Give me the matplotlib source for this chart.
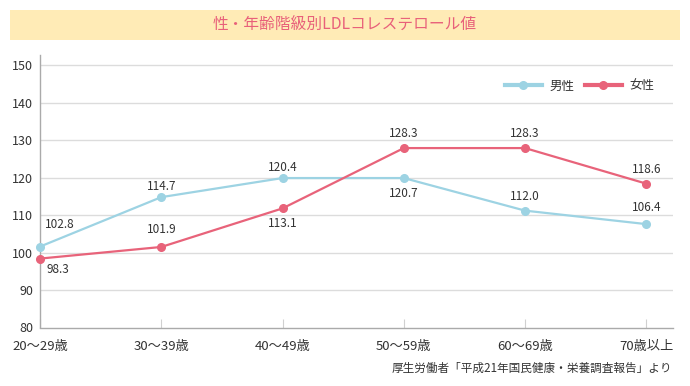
import matplotlib
matplotlib.use("Agg")
import matplotlib.pyplot as plt
from matplotlib.patches import Rectangle

plt.rcParams['font.family'] = ['Noto Sans CJK JP', 'DejaVu Sans']

categories = ["20〜29歳", "30〜39歳", "40〜49歳", "50〜59歳", "60〜69歳", "70歳以上"]
male_values = [101.6, 114.8, 119.9, 119.9, 111.2, 107.6]
female_values = [98.4, 101.5, 111.8, 127.9, 127.9, 118.4]
male_labels = ["102.8", "114.7", "120.4", "120.7", "112.0", "106.4"]
female_labels = ["98.3", "101.9", "113.1", "128.3", "128.3", "118.6"]
yticks = [80, 90, 100, 110, 120, 130, 140, 150]
title = "性・年齢階級別LDLコレステロール値"
source = "厚生労働者「平成21年国民健康・栄養調査報告」より"

# label offsets in pixels (dx, dy)
male_off = [(20, 22), (0, 11), (0, 11), (0, -15), (0, 14), (0, 17)]
female_off = [(18, -11), (0, 17), (0, -15), (0, 15), (0, 15), (0, 14)]

W, H = 690, 386
fig = plt.figure(figsize=(W / 100, H / 100), dpi=100)

# title bar
fig.patches.append(Rectangle((10 / W, 1 - 40 / H), 670 / W, 30 / H,
                             transform=fig.transFigure, facecolor="#FFEBB6",
                             edgecolor="none", zorder=0))
fig.text(345 / W, 1 - 25 / H, title, ha="center", va="center",
         fontsize=11.3, color="#E8607A")

ax = fig.add_axes([40 / W, 1 - 327.5 / H, (673 - 40) / W, (327.5 - 55) / H])
ax.set_ylim(80, 152.75)
ax.set_xlim(0, 5.22)
x = list(range(len(categories)))

male_c = "#9DD3E3"
female_c = "#E8637A"
ax.plot(x, male_values, color=male_c, lw=1.6, marker="o", ms=5.5, label="男性",
        zorder=3, clip_on=False)
ax.plot(x, female_values, color=female_c, lw=1.6, marker="o", ms=5.5, label="女性",
        zorder=4, clip_on=False)

for xi, v, lab, off in zip(x, male_values, male_labels, male_off):
    ax.annotate(lab, (xi, v), xytext=off, textcoords="offset pixels",
                ha="center", va="center", fontsize=8.5, color="#333333")
for xi, v, lab, off in zip(x, female_values, female_labels, female_off):
    ax.annotate(lab, (xi, v), xytext=off, textcoords="offset pixels",
                ha="center", va="center", fontsize=8.5, color="#333333")

ax.set_yticks(yticks)
ax.set_yticklabels([str(t) for t in yticks])
for t in yticks[1:]:
    ax.axhline(t, color="#dcdcdc", lw=1, zorder=1)
ax.set_xticks(x)
ax.set_xticklabels(categories)

ax.tick_params(axis="y", length=0, pad=5, labelsize=9, labelcolor="#333333")
ax.tick_params(axis="x", direction="in", length=6.5, color="#d0d0d0", width=0.8,
               pad=9, labelsize=9.5, labelcolor="#333333")

for s in ["top", "right"]:
    ax.spines[s].set_visible(False)
for s in ["left", "bottom"]:
    ax.spines[s].set_color("#aaaaaa")
    ax.spines[s].set_linewidth(1)

leg = ax.legend(loc="center right", bbox_to_anchor=(654 / W, 1 - 86 / H),
                bbox_transform=fig.transFigure, ncol=2, frameon=False,
                fontsize=9, handlelength=2.9, handletextpad=0.6,
                columnspacing=0.9, borderpad=0, borderaxespad=0)
for line in leg.get_lines():
    line.set_linewidth(3)
for t in leg.get_texts():
    t.set_color("#333333")

fig.text(672 / W, 1 - 368 / H, source, ha="right", va="center",
         fontsize=8.4, color="#333333")

fig.savefig("out.png", dpi=100)
